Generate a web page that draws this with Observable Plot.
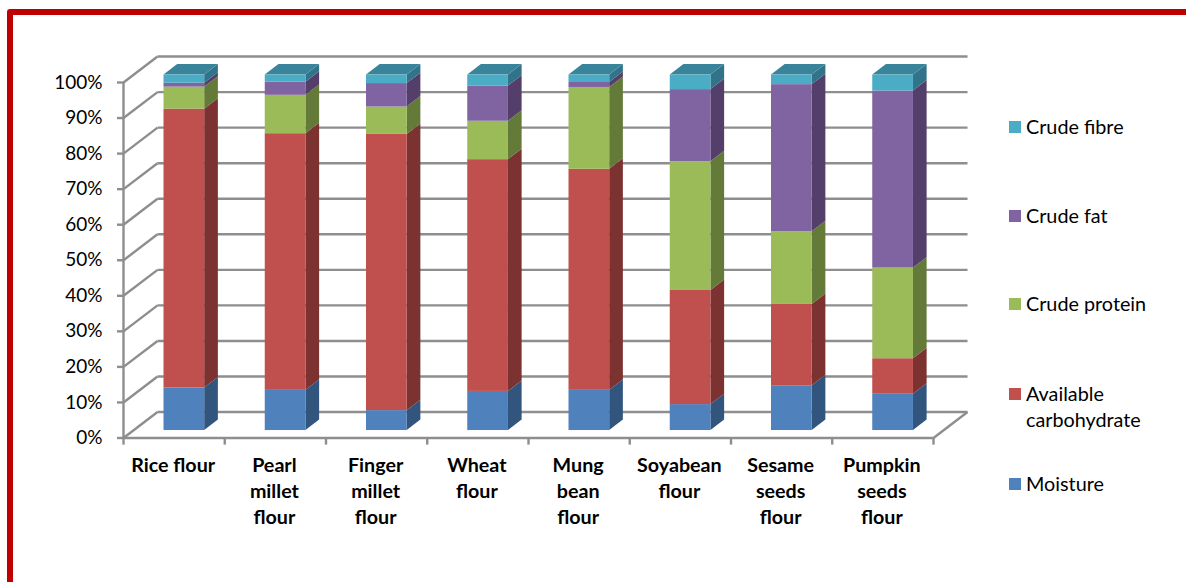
<!DOCTYPE html>
<html>
<head>
<meta charset="utf-8">
<script src="https://cdn.jsdelivr.net/npm/d3@7"></script>
<script src="https://cdn.jsdelivr.net/npm/@observablehq/plot@0.6"></script>
<style>
  html, body { margin: 0; padding: 0; background: #fff; }
  #stage { position: relative; width: 1186px; height: 582px; overflow: hidden; font-family: Lato, sans-serif; color: #000; }
  #stage svg { position: absolute; left: 0; top: 0; background: transparent; }
  #frame { position: absolute; left: 7px; top: 9px; right: -10px; bottom: -10px; border: 6px solid #c00000; border-top-left-radius: 3px; box-sizing: border-box; }
  .key { position: absolute; left: 1009px; font-size: 19.8px; line-height: 26px; padding-left: 17px; white-space: pre; }
  .key i { position: absolute; left: 0; top: 8px; width: 12px; height: 12px; }
</style>
</head>
<body>
<div id="stage"><div id="frame"></div></div>
<script>
// Proximate composition of each flour, in percent
const flours = [
  "Rice flour",
  "Pearl\nmillet\nflour",
  "Finger\nmillet\nflour",
  "Wheat\nflour",
  "Mung\nbean\nflour",
  "Soyabean\nflour",
  "Sesame\nseeds\nflour",
  "Pumpkin\nseeds\nflour"
];
const moisture = [12.0, 11.3, 5.6, 11.0, 11.3, 7.3, 12.6, 10.2];
const carbohydrate = [78.4, 72.2, 77.7, 65.2, 62.2, 32.1, 22.9, 10.0];
const protein = [6.2, 10.8, 7.7, 10.8, 23.0, 36.2, 20.5, 25.5];
const fat = [1.1, 3.7, 6.6, 9.9, 1.4, 20.3, 41.4, 49.8];
const fibre = [2.3, 2.0, 2.4, 3.1, 2.1, 4.1, 2.7, 4.5];

const series = [
  {name: "Moisture", values: moisture, front: "#4f81bd", side: "#32557e"},
  {name: "Available\ncarbohydrate", values: carbohydrate, front: "#c0504d", side: "#7b3231"},
  {name: "Crude protein", values: protein, front: "#9bbb59", side: "#647a39"},
  {name: "Crude fat", values: fat, front: "#8064a2", side: "#533f69"},
  {name: "Crude fibre", values: fibre, front: "#4bacc6", side: "#31748a"}
];
const topFace = "#3a849b";
const legendRows = [127, 216, 304, 394, 484];

// Oblique projection, in scale units: the room recedes by wall*, each bar by bar*
const wallX = 0.336, wallY = 7.3;
const barX = 0.135, barY = 2.93;
const barLeft = 0.4, barWidth = 0.402, barLift = 2.1;
const gridColor = "#8e8e8e";
const pct = d3.range(0, 101, 10);

// Cumulative segments, with the stack normalised to 100%
const segments = [];
flours.forEach((label, i) => {
  const total = d3.sum(series, s => s.values[i]);
  let run = 0;
  series.forEach(s => {
    const y0 = run;
    run += s.values[i] / total * 100;
    segments.push({i, series: s, x1: i + barLeft, x2: i + barLeft + barWidth, y1: y0 + barLift, y2: run + barLift});
  });
});

const sideFace = d => [
  {key: d.i, x: d.x2, y1: d.y1, y2: d.y2},
  {key: d.i, x: d.x2 + barX, y1: d.y1 + barY, y2: d.y2 + barY}
];
const roofFace = i => {
  const l = i + barLeft, r = l + barWidth, y = 100 + barLift;
  return [
    {key: i, x: l, y1: y, y2: y},
    {key: i, x: l + barX, y1: y, y2: y + barY},
    {key: i, x: r, y1: y, y2: y + barY},
    {key: i, x: r + barX, y1: y + barY, y2: y + barY}
  ];
};

const gridStyle = {stroke: gridColor, strokeWidth: 2.4};

const chart = Plot.plot({
  width: 1186,
  height: 582,
  marginLeft: 123,
  marginRight: 253,
  marginTop: 82,
  marginBottom: 144.5,
  style: {fontFamily: "Lato, sans-serif", background: "transparent"},
  x: {domain: [0, 8], axis: null},
  y: {domain: [0, 100], axis: null},
  marks: [
    // back wall, left wall and floor
    Plot.link(pct, {x1: wallX, x2: 8 + wallX, y1: d => d + wallY, y2: d => d + wallY, ...gridStyle}),
    Plot.link(pct, {x1: 0, x2: wallX, y1: d => d, y2: d => d + wallY, ...gridStyle}),
    Plot.link([0], {x1: 8, x2: 8 + wallX, y1: 0, y2: wallY, ...gridStyle}),
    Plot.ruleY([0], {x1: 0, x2: 8, ...gridStyle}),
    Plot.ruleX([0], {y1: 0, y2: 100, ...gridStyle}),
    Plot.ruleX(d3.range(9), {y1: 0, y2: -2, ...gridStyle}),
    Plot.axisY({
      ticks: pct,
      tickSize: 6,
      tickPadding: 15,
      tickFormat: d => d + "%",
      label: null,
      stroke: gridColor,
      strokeWidth: 2.4,
      fill: "#000",
      fontSize: 19
    }),
    // bar faces
    ...series.map(s => Plot.area(segments.filter(d => d.series === s).flatMap(sideFace), {
      x1: "x", y1: "y1", y2: "y2", z: "key", fill: s.side, curve: "linear"
    })),
    Plot.area(flours.flatMap((_, i) => roofFace(i)), {
      x1: "x", y1: "y1", y2: "y2", z: "key", fill: topFace, curve: "linear"
    }),
    ...series.map(s => Plot.rect(segments.filter(d => d.series === s), {
      x1: "x1", x2: "x2", y1: "y1", y2: "y2", fill: s.front
    })),
    // category labels
    Plot.text(flours, {
      x: (_, i) => i + 0.5,
      y: 0,
      dx: -1,
      dy: 16,
      text: d => d,
      lineAnchor: "top",
      lineHeight: 1.32,
      fontSize: 19.7,
      fontWeight: 700,
      fill: "#000"
    })
  ]
});

const stage = document.getElementById("stage");
stage.insertBefore(chart, stage.firstChild);

// Legend, reading upward from the first series
series.forEach((s, k) => {
  const row = document.createElement("div");
  row.className = "key";
  row.style.top = (legendRows[series.length - 1 - k] - 14) + "px";
  const swatch = document.createElement("i");
  swatch.style.background = s.front;
  row.appendChild(swatch);
  row.appendChild(document.createTextNode(s.name));
  stage.appendChild(row);
});
</script>
</body>
</html>
